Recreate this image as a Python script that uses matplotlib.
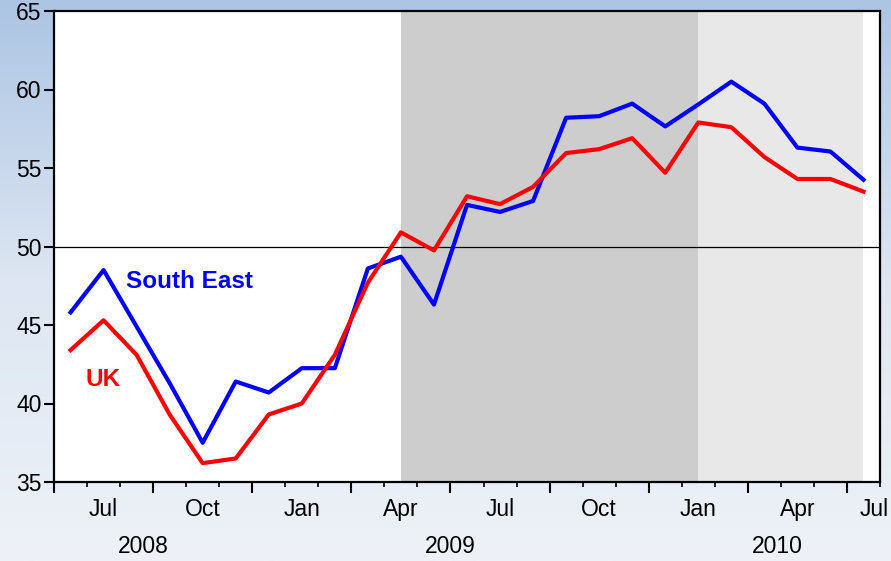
import matplotlib
matplotlib.use("Agg")
import matplotlib.pyplot as plt
import numpy as np
from matplotlib.colors import LinearSegmentedColormap

plt.rcParams['font.family'] = ['Liberation Sans', 'DejaVu Sans']

# monthly PMI-style index, Jun 2008 .. Jun 2010
months = ['2008-06', '2008-07', '2008-08', '2008-09', '2008-10', '2008-11', '2008-12',
          '2009-01', '2009-02', '2009-03', '2009-04', '2009-05', '2009-06', '2009-07',
          '2009-08', '2009-09', '2009-10', '2009-11', '2009-12',
          '2010-01', '2010-02', '2010-03', '2010-04', '2010-05', '2010-06']
south_east = [45.8, 48.5, 44.9, 41.3, 37.5, 41.4, 40.7, 42.25, 42.25, 48.6, 49.35, 46.3,
              52.65, 52.2, 52.9, 58.2, 58.3, 59.1, 57.65, 59.05, 60.5, 59.1, 56.3, 56.05, 54.25]
uk = [43.4, 45.3, 43.1, 39.3, 36.2, 36.5, 39.3, 40.0, 43.1, 47.7, 50.9, 49.75,
      53.2, 52.7, 53.8, 55.95, 56.2, 56.9, 54.7, 57.9, 57.6, 55.7, 54.3, 54.3, 53.5]

month_labels = ['Jul', 'Oct', 'Jan', 'Apr', 'Jul', 'Oct', 'Jan', 'Apr', 'Jul']
month_label_pos = [1, 4, 7, 10, 13, 16, 19, 22, 24.33]
years = ['2008', '2009', '2010']
year_pos = [2.2, 11.5, 21.4]

dark_span = ('2009-04', '2010-01')
light_span = ('2010-01', '2010-06')

fig = plt.figure(figsize=(8.91, 5.61), dpi=100)

# gradient background
bg = fig.add_axes([0, 0, 1, 1], zorder=-10)
cmap = LinearSegmentedColormap.from_list('bg', ['#acc5e3', '#dde6f2', '#eef2f8'])
bg.imshow(np.linspace(0, 1, 256).reshape(-1, 1), aspect='auto', cmap=cmap,
          extent=[0, 1, 0, 1])
bg.axis('off')

ax = fig.add_axes([54 / 891, 1 - 482 / 561, 826 / 891, 471 / 561])
x = np.arange(len(months))

ax.axvspan(months.index(dark_span[0]), months.index(dark_span[1]), color='#cdcdcd', lw=0, zorder=0)
ax.axvspan(months.index(light_span[0]), months.index(light_span[1]), color='#e8e8e8', lw=0, zorder=0)
ax.axhline(50, color='black', lw=0.9, zorder=1)

ax.plot(x, south_east, color='#0000ff', lw=3, zorder=3)
ax.plot(x, uk, color='#ff0000', lw=3, zorder=4)

ax.text(1.67, 47.8, 'South East', color='#0000ff', fontsize=17.5, fontweight='bold', va='center')
ax.text(0.45, 41.5, 'UK', color='#ff0000', fontsize=17.5, fontweight='bold', va='center')

ax.set_xlim(-0.5, len(months) - 0.5)
ax.set_ylim(35, 65)
ax.set_yticks(np.arange(35, 66, 5))
ax.tick_params(axis='y', labelsize=16.5, length=7, width=1.5, pad=2, colors='black')

boundaries = np.arange(-0.5, len(months), 1)
ax.set_xticks(boundaries[::3])
ax.set_xticks(boundaries, minor=True)
ax.set_xticklabels([])
ax.tick_params(axis='x', which='major', length=8, width=1.5)
ax.tick_params(axis='x', which='minor', length=3.5, width=1.2)

tr = ax.get_xaxis_transform()
for lab, p in zip(month_labels, month_label_pos):
    ax.text(p, -0.058, lab, transform=tr, ha='center', va='center', fontsize=16.5, clip_on=False)
for lab, p in zip(years, year_pos):
    ax.text(p, -0.137, lab, transform=tr, ha='center', va='center', fontsize=16.5, clip_on=False)

for s in ax.spines.values():
    s.set_linewidth(1.6)
    s.set_color('black')

fig.savefig('out.png', dpi=100)
